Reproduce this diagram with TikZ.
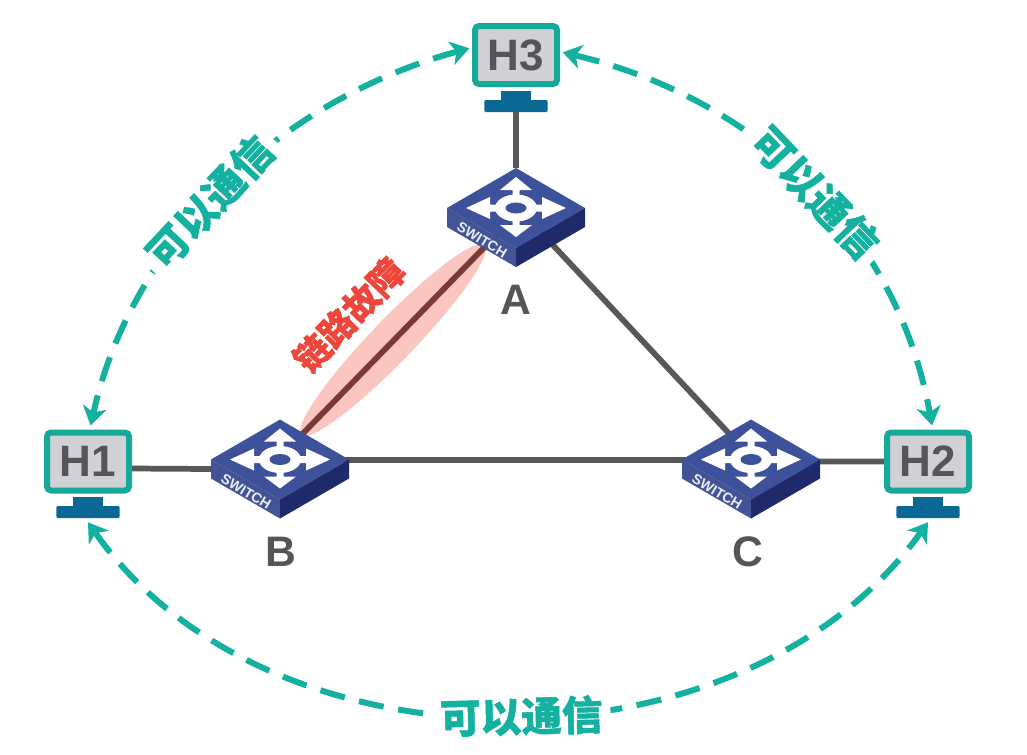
\documentclass[tikz,border=0pt]{standalone}
\usepackage{fontspec}
\setmainfont{Liberation Sans}
\newfontfamily\cjk[BoldFeatures={FakeBold=1.2}]{Noto Sans CJK SC Bold}
\definecolor{hostteal}{RGB}{22,168,153}
\definecolor{talkteal}{RGB}{20,176,160}
\definecolor{hostgray}{RGB}{208,209,212}
\definecolor{standblue}{RGB}{11,104,148}
\definecolor{linkgray}{RGB}{88,88,88}
\definecolor{linkfault}{RGB}{122,58,52}
\definecolor{faultpink}{RGB}{252,198,192}
\definecolor{faultred}{RGB}{238,70,58}
\definecolor{swtop}{RGB}{62,82,155}
\definecolor{swleft}{RGB}{66,84,150}
\definecolor{swright}{RGB}{31,42,106}
\definecolor{textgray}{RGB}{85,85,88}
\usetikzlibrary{arrows.meta, backgrounds, shapes.geometric}

\begin{document}
\begin{tikzpicture}[
  x=0.75pt, y=-0.75pt,
  host/.style={draw=hostteal, fill=hostgray, line width=4.5pt, rounded corners=3pt,
    minimum width=61.5pt, minimum height=43.5pt, inner sep=0pt,
    font=\bfseries\fontsize{33}{33}\selectfont, text=textgray},
  neck/.style={fill=standblue, minimum width=22pt, minimum height=7.5pt, inner sep=0pt},
  standbase/.style={fill=standblue, rounded corners=1pt, minimum width=47.5pt, minimum height=9pt, inner sep=0pt},
  swbox/.style={minimum width=103.5pt, minimum height=74.25pt, inner sep=0pt, outer sep=0pt},
  swname/.style={font=\bfseries\fontsize{32}{32}\selectfont, text=textgray},
  lnk/.style={line width=4.3pt, linkgray},
  talk/.style={{Stealth[length=14pt,width=18pt,inset=4pt]}-{Stealth[length=14pt,width=18pt,inset=4pt]},
    line width=4.5pt, talkteal, dash pattern=on 19pt off 11pt},
  talktext/.style={fill=white, inner sep=6pt, text=talkteal,
    font=\cjk\bfseries\fontsize{30.5}{30.5}\selectfont},
  switchicon/.pic={
    \fill[swtop] (0,-49.5) -- (69,-9.5) -- (0,30.5) -- (-69,-9.5) -- cycle;
    \fill[swleft] (-69,-9.5) -- (0,30.5) -- (0,49.5) -- (-69,9.5) -- cycle;
    \fill[swright] (69,-9.5) -- (0,30.5) -- (0,49.5) -- (69,9.5) -- cycle;
    \begin{scope}[shift={(0,-9.5)}]
      % cross of four arrows, then the ring over it
      \fill[white] (-3.5,-18) -- (-16,-18) -- (0,-31) -- (16,-18) -- (3.5,-18) -- (3.5,-3.5)
        -- (26,-3.5) -- (26,-11) -- (50,0) -- (26,11) -- (26,3.5) -- (3.5,3.5)
        -- (3.5,17) -- (16,17) -- (0,29) -- (-16,17) -- (-3.5,17) -- (-3.5,3.5)
        -- (-26,3.5) -- (-26,11) -- (-50,0) -- (-26,-11) -- (-26,-3.5) -- (-3.5,-3.5) -- cycle;
      \fill[white] (0,0) ellipse [x radius=21, y radius=13.5];
      \fill[swtop] (0,0) ellipse [x radius=10.5, y radius=5.5];
    \end{scope}
    \node[rotate=-31, text=white!90!swleft, inner sep=0pt, font=\bfseries\fontsize{10.5}{10.5}\selectfont]
      (txt) at (-34,22.5) {SWITCH};
  },
]
\useasboundingbox (0,0) rectangle (1027,754);

% hosts
\node[host] (H3) at (516,55) {H3};
\node[neck] (nkH3) at (516,96) {};
\node[standbase] (stH3) at (516,106) {};
\node[host] (H1) at (88,461.5) {H1};
\node[neck] (nkH1) at (88,502) {};
\node[standbase] (stH1) at (88,512) {};
\node[host] (H2) at (928,461.5) {H2};
\node[neck] (nkH2) at (928,502) {};
\node[standbase] (stH2) at (928,512) {};

% switches
\node[swbox] (swA) at (516,217.5) {};
\node[swbox] (swB) at (280,469) {};
\node[swbox] (swC) at (751,469) {};

\begin{scope}[on background layer]
  \node[ellipse, fill=faultpink, rotate=46, minimum width=198pt, minimum height=32pt, inner sep=0pt]
    (fault) at (393,340) {};
  \draw[lnk] (stH3) -- (swA);
  \draw[lnk] ([yshift=-5.25pt]H1.east) -- (swB.west);
  \draw[lnk] ([yshift=7pt]swB.center) -- ([yshift=7pt]swC.center);
  \draw[lnk] ([yshift=5.6pt]swC.center) -- (H2.west);
  \draw[lnk] ([yshift=9pt]swA.center) -- ([yshift=9pt]swC.center);
  \draw[lnk, linkfault] ([yshift=2pt]swA.center) -- ([yshift=9pt]swB.center);
\end{scope}

\pic (icA) at (swA) {switchicon};
\pic (icB) at (swB) {switchicon};
\pic (icC) at (swC) {switchicon};

\node[swname] (lblA) at (516,300) {A};
\node[swname] (lblB) at (281,552) {B};
\node[swname] (lblC) at (748,552) {C};

\node[rotate=46, text=faultred, font=\cjk\bfseries\fontsize{26.5}{26.5}\selectfont, inner sep=0pt]
  (faulttext) at (349,315) {链路故障};

% the three dashed arcs
\draw[talk] (H3.west) ++(-2pt,5pt) .. controls (282,99) and (132,239) .. ([xshift=2pt,yshift=3pt]H1.north)
  node[talktext, sloped, pos=0.54] (talk13) {可以通信};
\draw[talk] (H3.east) ++(2pt,2pt) .. controls (754,98) and (897,230) .. ([xshift=3pt,yshift=3pt]H2.north)
  node[talktext, sloped, pos=0.525] (talk23) {可以通信};
\draw[talk] ([yshift=-3pt]stH1.south) .. controls (270,781) and (742,781) .. ([yshift=-3pt]stH2.south)
  node[talktext, sloped, pos=0.515] (talk12) {可以通信};
\end{tikzpicture}
\end{document}
